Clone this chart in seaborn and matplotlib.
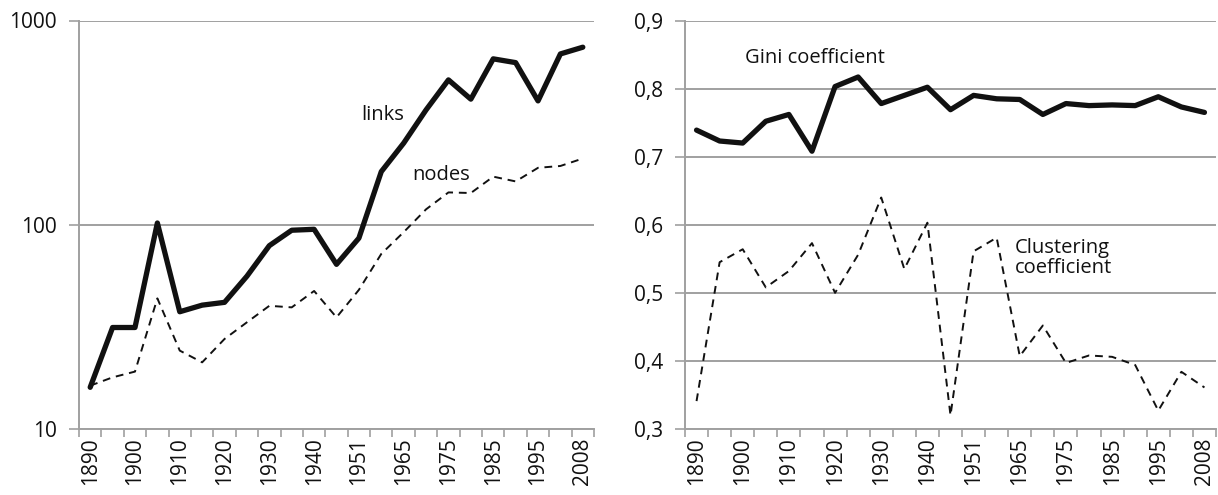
import numpy as np
import pandas as pd
import matplotlib
matplotlib.use("Agg")
import matplotlib.pyplot as plt
import seaborn as sns

years = ["1890", "1895", "1900", "1905", "1910", "1915", "1920", "1925", "1930", "1935",
         "1940", "1945", "1951", "1958", "1965", "1970", "1975", "1980", "1985", "1990",
         "1995", "2000", "2008"]
links = [16, 31.4, 31.4, 102, 37.5, 40.4, 41.7, 56, 79, 94, 95, 64, 86, 182, 251, 365,
         512, 412, 649, 622, 404, 686, 740]
nodes = [16.3, 17.9, 19.1, 43.6, 24.2, 21.2, 27.6, 33.3, 40.1, 39.4, 47.4, 35.2, 48,
         72, 92, 119, 144, 143, 172, 163, 190, 194, 211]
gini = [0.739, 0.723, 0.720, 0.752, 0.762, 0.708, 0.803, 0.817, 0.778, 0.790, 0.802,
        0.769, 0.790, 0.785, 0.784, 0.762, 0.778, 0.775, 0.776, 0.775, 0.788, 0.773, 0.765]
clustering = [0.341, 0.545, 0.564, 0.508, 0.532, 0.573, 0.500, 0.556, 0.640, 0.535, 0.603,
              0.320, 0.561, 0.581, 0.407, 0.452, 0.397, 0.408, 0.406, 0.394, 0.327, 0.384, 0.361]
left_yticks = [10, 100, 1000]
right_yticks = [0.3, 0.4, 0.5, 0.6, 0.7, 0.8, 0.9]

sns.set_theme(style="white")
plt.rcParams['font.family'] = ['Open Sans', 'DejaVu Sans']

df = pd.DataFrame({"year": years, "links": links, "nodes": nodes,
                   "gini": gini, "clustering": clustering})

fig = plt.figure(figsize=(12.18, 4.95), dpi=100)
axL = fig.add_axes([79 / 1218, 66 / 495, 515 / 1218, 408.5 / 495])
axR = fig.add_axes([685 / 1218, 66 / 495, 531 / 1218, 408.5 / 495])

grid_col = "#a0a0a0"
FS = 15
AFS = 14.5

sns.lineplot(data=df, x="year", y="links", ax=axL, color="#111111", linewidth=3.8,
             sort=False)
sns.lineplot(data=df, x="year", y="nodes", ax=axL, color="#111111", linewidth=1.4,
             sort=False)
axL.lines[-1].set_linestyle((0, (4, 3)))
axL.set_yscale("log")
axL.set_ylim(10, 1000)
axL.set_yticks(left_yticks)
axL.set_yticklabels([str(v) for v in left_yticks])
axL.yaxis.set_minor_locator(matplotlib.ticker.NullLocator())

sns.lineplot(data=df, x="year", y="gini", ax=axR, color="#111111", linewidth=3.8,
             sort=False)
sns.lineplot(data=df, x="year", y="clustering", ax=axR, color="#111111", linewidth=1.4,
             sort=False)
axR.lines[-1].set_linestyle((0, (4, 3)))
axR.set_ylim(0.3, 0.9)
axR.set_yticks(right_yticks)
axR.set_yticklabels([f"{v:.1f}".replace(".", ",") for v in right_yticks])

n = len(years)
for ax in (axL, axR):
    ax.set_xlim(-0.5, n - 0.5)
    ax.set_xlabel("")
    ax.set_ylabel("")
    ax.set_xticks(np.arange(n + 1) - 0.5)
    ax.set_xticklabels([])
    ax.set_xticks(np.arange(0, n, 2), minor=True)
    ax.set_xticklabels([years[i] for i in range(0, n, 2)], minor=True, rotation=90,
                       fontsize=FS)
    ax.tick_params(axis="x", which="major", length=6, width=1.2, color=grid_col,
                   direction="out", bottom=True)
    ax.tick_params(axis="x", which="minor", length=0, pad=6, bottom=True)
    ax.tick_params(axis="y", which="major", length=7, width=1.2, color=grid_col,
                   direction="out", left=True, labelsize=FS, pad=9)
    ax.yaxis.grid(True, color=grid_col, linewidth=1.4)
    ax.xaxis.grid(False)
    ax.set_axisbelow(True)
    for s in ("top", "right"):
        ax.spines[s].set_visible(False)
    for s in ("left", "bottom"):
        ax.spines[s].set_color(grid_col)
        ax.spines[s].set_linewidth(1.4)
    for lab in ax.get_yticklabels():
        lab.set_color("#111111")
    for lab in ax.get_xticklabels(minor=True):
        lab.set_color("#111111")

axL.text(12.1, 345, "links", fontsize=AFS, ha="left", va="center", color="#111111")
axL.text(14.4, 176, "nodes", fontsize=AFS, ha="left", va="center", color="#111111")
axR.text(2.1, 0.845, "Gini coefficient", fontsize=AFS, ha="left", va="center",
         color="#111111")
axR.text(13.8, 0.551, "Clustering\ncoefficient", fontsize=AFS, ha="left", va="center",
         color="#111111", linespacing=1.0)

fig.savefig("out.png", dpi=100)
